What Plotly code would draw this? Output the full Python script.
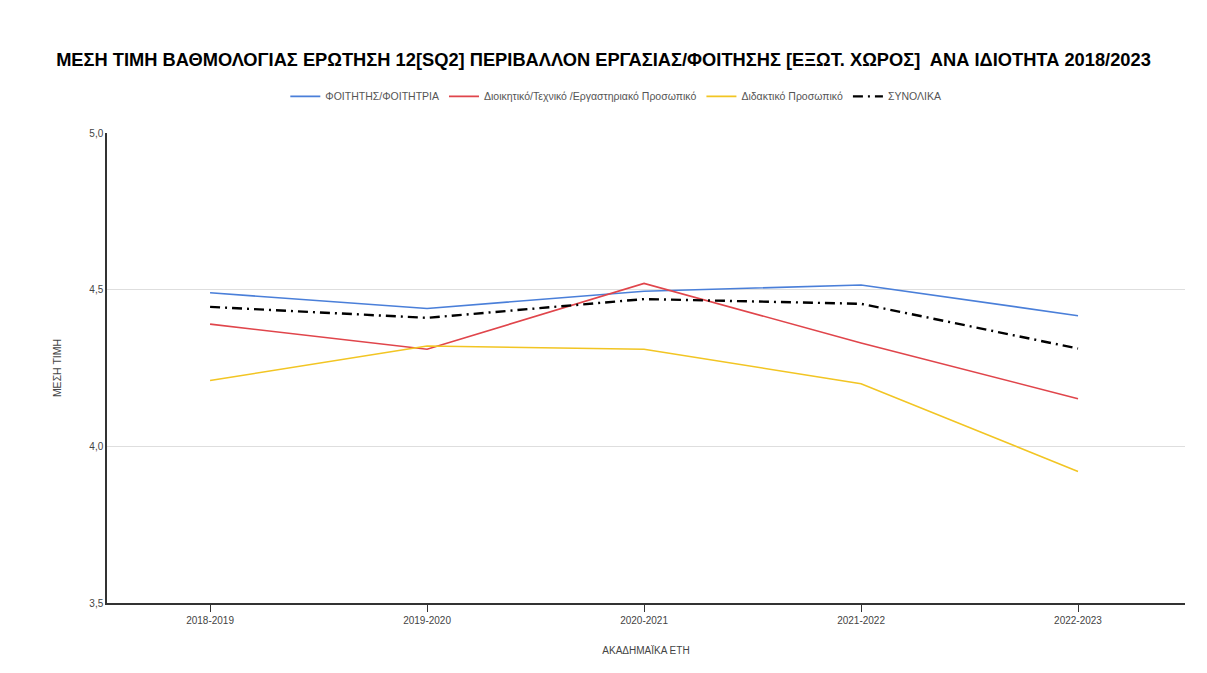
import plotly.graph_objects as go

years = ["2018-2019", "2019-2020", "2020-2021", "2021-2022", "2022-2023"]
students = [4.49, 4.44, 4.495, 4.515, 4.417]
admin_staff = [4.39, 4.31, 4.52, 4.33, 4.152]
teaching_staff = [4.21, 4.32, 4.31, 4.20, 3.92]
total = [4.445, 4.41, 4.47, 4.455, 4.312]

names = ["ΦΟΙΤΗΤΗΣ/ΦΟΙΤΗΤΡΙΑ", "Διοικητικό/Τεχνικό /Εργαστηριακό Προσωπικό",
         "Διδακτικό Προσωπικό", "ΣΥΝΟΛΙΚΑ"]
colors = ["#4a7fd9", "#e0454b", "#f2c523", "#000000"]

fig = go.Figure()
for vals, nm, col in zip([students, admin_staff, teaching_staff], names[:3], colors[:3]):
    fig.add_trace(go.Scatter(x=years, y=vals, name=nm, mode="lines",
                             line=dict(color=col, width=1.6)))
fig.add_trace(go.Scatter(x=years, y=total, name=names[3], mode="lines",
                         line=dict(color=colors[3], width=2.4, dash="10px,5px,2px,5px")))

font_family = "Liberation Sans, Arial, sans-serif"
fig.update_layout(
    width=1207, height=673,
    paper_bgcolor="white", plot_bgcolor="white",
    separators=",.",
    margin=dict(l=107, r=22, t=133, b=70),
    title=dict(text="<b>ΜΕΣΗ ΤΙΜΗ ΒΑΘΜΟΛΟΓΙΑΣ ΕΡΩΤΗΣΗ 12[SQ2] ΠΕΡΙΒΑΛΛΟΝ ΕΡΓΑΣΙΑΣ/ΦΟΙΤΗΣΗΣ [ΕΞΩΤ. ΧΩΡΟΣ]  ΑΝΑ ΙΔΙΟΤΗΤΑ 2018/2023</b>",
               x=0.5, xanchor="center", y=0.911, yanchor="middle",
               font=dict(family=font_family, size=18.3, color="#000000")),
    legend=dict(orientation="h", x=0.472, xanchor="center", y=1.078, yanchor="middle",
                font=dict(family=font_family, size=10.5, color="#555555"),
                itemwidth=30, bgcolor="rgba(0,0,0,0)"),
    font=dict(family=font_family, size=10, color="#555555"),
    showlegend=True,
)
fig.update_xaxes(
    type="category", range=[-0.475, 4.493],
    showline=True, linecolor="#333333", linewidth=1.5,
    ticks="outside", ticklen=7, tickcolor="#333333",
    showgrid=False,
    tickfont=dict(size=10, color="#444444"),
    title=dict(text="ΑΚΑΔΗΜΑΪΚΑ ΕΤΗ", font=dict(size=10, color="#444444"), standoff=22),
)
fig.update_yaxes(
    range=[3.5, 5.0], dtick=0.5, tickformat=".1f",
    showline=True, linecolor="#333333", linewidth=1.5,
    showgrid=True, gridcolor="#dedede", gridwidth=1,
    zeroline=False,
    tickfont=dict(size=10, color="#444444"),
    title=dict(text="ΜΕΣΗ ΤΙΜΗ", font=dict(size=10.5, color="#444444"), standoff=26),
)

fig.write_html("out.html", config={"displayModeBar": False},
               post_script="document.body.style.margin='0';")
